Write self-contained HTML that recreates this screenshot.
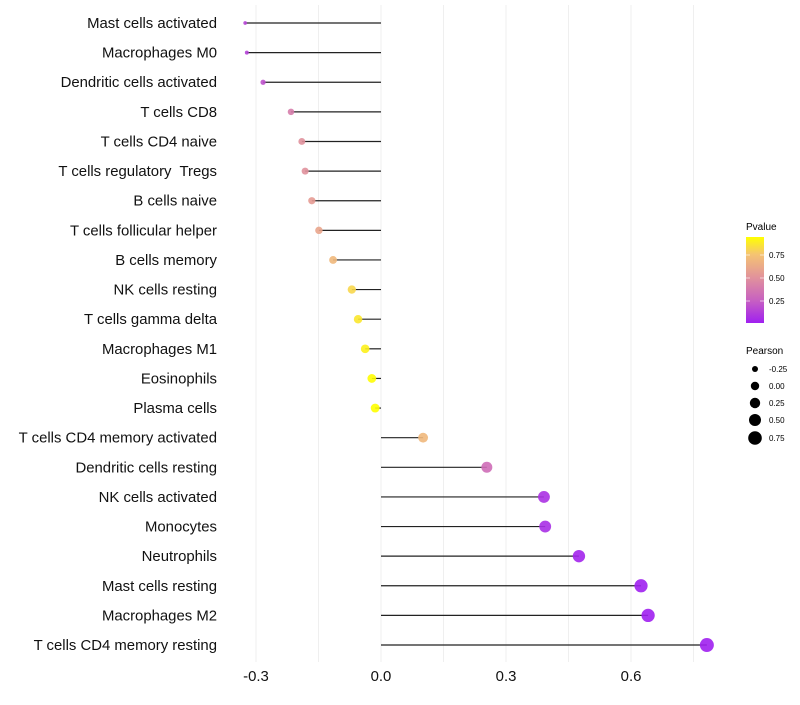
<!DOCTYPE html>
<html><head><meta charset="utf-8"><style>
body{margin:0;background:#fff;font-family:"Liberation Sans",sans-serif}
text{white-space:pre}
</style></head><body>
<svg id="chart" width="800" height="700" xmlns="http://www.w3.org/2000/svg">
<defs><linearGradient id="pg" x1="0" y1="1" x2="0" y2="0">
<stop offset="0" stop-color="#a020f0"/><stop offset="0.27" stop-color="#c862c0"/><stop offset="0.54" stop-color="#e2949a"/><stop offset="0.8" stop-color="#f5c472"/><stop offset="1" stop-color="#ffff00"/>
</linearGradient></defs>
<g id="grid"></g><g id="marks"></g><g id="labels"></g><g id="ticks"></g>
<g>
<text x="746" y="230" font-size="10">Pvalue</text>
<rect x="746" y="237" width="18" height="86" fill="url(#pg)"/>
<line x1="746" x2="750" y1="255" y2="255" stroke="#fff" opacity=".6"/><line x1="760" x2="764" y1="255" y2="255" stroke="#fff" opacity=".6"/>
<line x1="746" x2="750" y1="278" y2="278" stroke="#fff" opacity=".6"/><line x1="760" x2="764" y1="278" y2="278" stroke="#fff" opacity=".6"/>
<line x1="746" x2="750" y1="301" y2="301" stroke="#fff" opacity=".6"/><line x1="760" x2="764" y1="301" y2="301" stroke="#fff" opacity=".6"/>
<text x="769" y="258" font-size="8">0.75</text><text x="769" y="281" font-size="8">0.50</text><text x="769" y="304" font-size="8">0.25</text>
</g>
<g>
<text x="746" y="354" font-size="10">Pearson</text>
<circle cx="755" cy="369" r="3" fill="#000"/><text x="769" y="372" font-size="8">-0.25</text>
<circle cx="755" cy="386" r="4.2" fill="#000"/><text x="769" y="389" font-size="8">0.00</text>
<circle cx="755" cy="403" r="5.2" fill="#000"/><text x="769" y="406" font-size="8">0.25</text>
<circle cx="755" cy="420" r="6" fill="#000"/><text x="769" y="423" font-size="8">0.50</text>
<circle cx="755" cy="438" r="6.8" fill="#000"/><text x="769" y="441" font-size="8">0.75</text>
</g>
</svg>
<script>
const categories=["Mast cells activated","Macrophages M0","Dendritic cells activated","T cells CD8","T cells CD4 naive","T cells regulatory  Tregs","B cells naive","T cells follicular helper","B cells memory","NK cells resting","T cells gamma delta","Macrophages M1","Eosinophils","Plasma cells","T cells CD4 memory activated","Dendritic cells resting","NK cells activated","Monocytes","Neutrophils","Mast cells resting","Macrophages M2","T cells CD4 memory resting"];
const pearson=[-0.326,-0.322,-0.283,-0.216,-0.190,-0.182,-0.166,-0.149,-0.115,-0.070,-0.055,-0.038,-0.022,-0.014,0.101,0.254,0.391,0.394,0.475,0.624,0.641,0.782];
const pvalue=[0.15,0.14,0.2,0.4,0.5,0.5,0.55,0.6,0.7,0.82,0.87,0.9,0.94,0.95,0.7,0.32,0.08,0.07,0.03,0.006,0.004,0.001];
const xTicks=[-0.3,0,0.3,0.6];
const xTickLabels=["-0.3","0.0","0.3","0.6"];
const NS="http://www.w3.org/2000/svg";
const x=v=>381+v*416.7;
const y=i=>23+i*29.62;
function col(p){
 const t=Math.max(0,Math.min(1,(p-0.01)/0.936));
 const st=[[0,[160,32,240]],[0.27,[200,98,192]],[0.54,[226,148,154]],[0.8,[245,196,114]],[1,[255,255,0]]];
 for(let k=1;k<st.length;k++){if(t<=st[k][0]){const a=st[k-1],b=st[k],f=(t-a[0])/(b[0]-a[0]);return "rgb("+a[1].map((c,j)=>Math.round(c+(b[1][j]-c)*f)).join(",")+")";}}
 return "rgb(255,255,0)";
}
const rad=v=>1.5+5.5*Math.sqrt(Math.max(0,(v+0.33))/1.11);
function mk(tag,at,parent){const e=document.createElementNS(NS,tag);for(const k in at)e.setAttribute(k,at[k]);document.getElementById(parent).appendChild(e);return e;}
[-0.3,-0.15,0,0.15,0.3,0.45,0.6,0.75].forEach(g=>{
 const l=mk("line",{x1:x(g),x2:x(g),y1:5,y2:662,stroke:"#efefef","stroke-width":1},"grid");
 
 
});
categories.forEach((c,i)=>{
 const s=mk("line",{x1:x(0),x2:x(pearson[i]),y1:y(i),y2:y(i),stroke:"#222","stroke-width":1.2},"marks");
 
 
 const p=mk("circle",{cx:x(pearson[i]),cy:y(i),r:rad(pearson[i]),fill:col(pvalue[i]),opacity:0.9},"marks");
 
 
 const t=mk("text",{x:217,y:y(i)+5,"text-anchor":"end","font-size":14.9,fill:"#111"},"labels");
 t.textContent=c;
 
 
});
xTicks.forEach((v,i)=>{
 const t=mk("text",{x:x(v),y:681,"text-anchor":"middle","font-size":14.9,fill:"#111"},"ticks");
 t.textContent=xTickLabels[i];
 
 
});
</script>
</body></html>
